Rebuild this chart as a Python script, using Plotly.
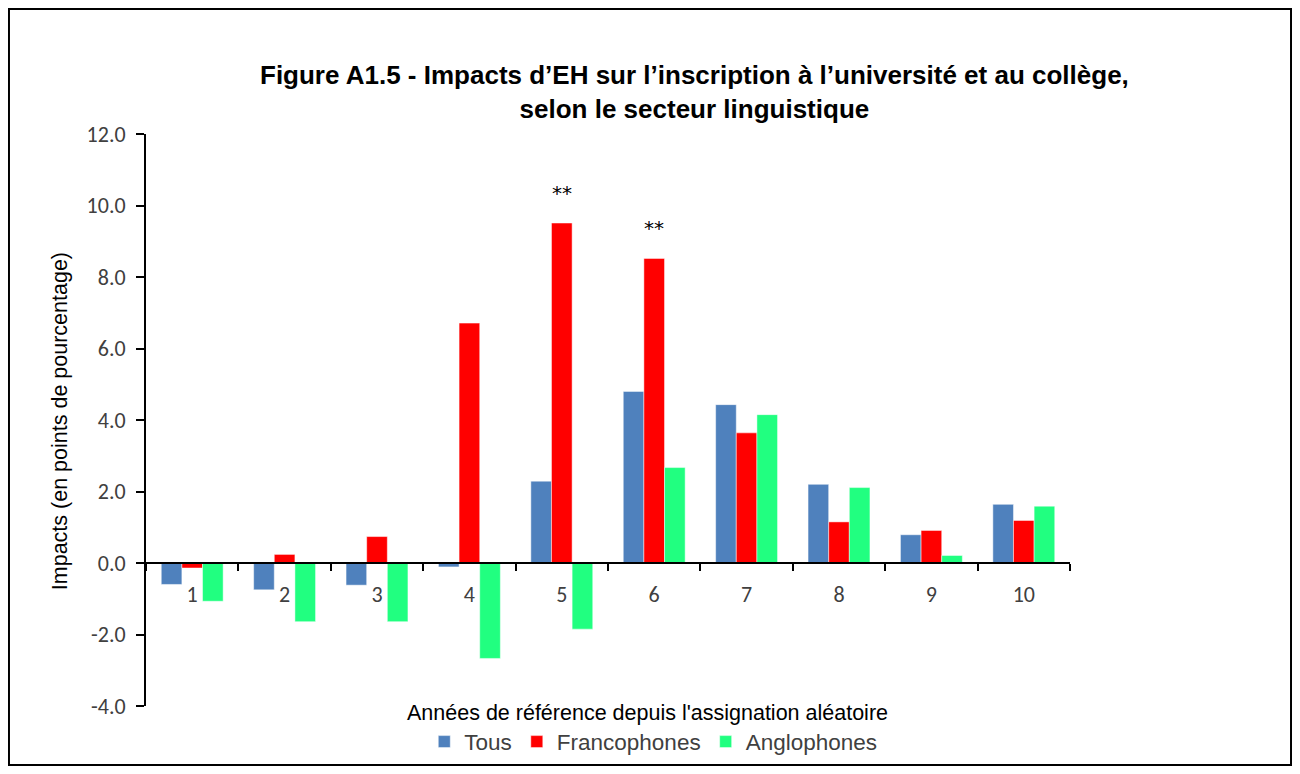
import plotly.graph_objects as go

# Années de référence
annees = ['1', '2', '3', '4', '5', '6', '7', '8', '9', '10']

# Impacts (points de pourcentage)
tous = [-0.60, -0.75, -0.62, -0.11, 2.29, 4.80, 4.43, 2.20, 0.79, 1.64]
francophones = [-0.14, 0.24, 0.74, 6.71, 9.51, 8.52, 3.64, 1.15, 0.91, 1.19]
anglophones = [-1.07, -1.64, -1.64, -2.67, -1.85, 2.67, 4.15, 2.11, 0.21, 1.59]

# Seuils de signification (au-dessus des barres francophones)
signif = ['', '', '', '', '**', '**', '', '', '', '']

# Graduations de l'axe vertical
yticks = [-4, -2, 0, 2, 4, 6, 8, 10, 12]
ylabels = [f'{v:.1f}' for v in yticks]

TITLEFONT = 'Liberation Sans, Arial, sans-serif'
TICKFONT = 'Carlito, Calibri, Lato, sans-serif'

fig = go.Figure()

series = [
    ('Tous', tous, '#4F81BD'),
    ('Francophones', francophones, '#FF0000'),
    ('Anglophones', anglophones, '#21FF80'),
]
for name, vals, color in series:
    fig.add_trace(go.Bar(
        x=annees,
        y=vals,
        name=name,
        marker=dict(color=color, line=dict(color='rgba(255,255,255,0.6)', width=0.8)),
    ))

# Astérisques (x en index de catégorie)
for i, (v, s) in enumerate(zip(francophones, signif)):
    if s:
        fig.add_annotation(
            x=i, y=v, text=s, showarrow=False,
            yshift=30, yanchor='middle', xanchor='center',
            font=dict(family='DejaVu Sans, sans-serif', size=20, color='black'),
        )

# Titres
fig.add_annotation(
    x=0.594, y=1.0726, xref='paper', yref='paper', xanchor='center', yanchor='middle',
    text="<b>Figure A1.5 - Impacts d’EH sur l’inscription à l’université et au collège,<br>selon le secteur linguistique</b>",
    showarrow=False, align='center',
    font=dict(family=TITLEFONT, size=26, color='black'),
)
fig.add_annotation(
    x=-0.093, y=0.498, xref='paper', yref='paper', xanchor='center', yanchor='middle',
    textangle=-90,
    text='Impacts (en points de pourcentage)', showarrow=False,
    font=dict(family=TITLEFONT, size=21.5, color='black'),
)
fig.add_annotation(
    x=0.543, y=-0.012, xref='paper', yref='paper', xanchor='center', yanchor='middle',
    text="Années de référence depuis l'assignation aléatoire", showarrow=False,
    font=dict(family=TITLEFONT, size=21.5, color='black'),
)

# Cadre extérieur
fig.add_shape(
    type='rect', xref='paper', yref='paper',
    x0=-0.1483, x1=1.2392, y0=-0.1031, y1=1.2185,
    line=dict(color='black', width=2), fillcolor='rgba(0,0,0,0)',
)

fig.update_layout(
    width=1284, height=758,
    margin=dict(l=138, r=222, t=126, b=60),
    plot_bgcolor='white', paper_bgcolor='white',
    barmode='group', bargap=0.33, bargroupgap=0,
    showlegend=True,
    legend=dict(
        orientation='h', x=0.549, xanchor='center',
        yref='container', y=0.0317, yanchor='middle',
        font=dict(family=TITLEFONT, size=22.5, color='#404040'),
        itemwidth=30,
    ),
    xaxis=dict(
        type='category', anchor='free', position=0.25, automargin=False,
        showline=True, linecolor='black', linewidth=2,
        ticks='outside', tickson='boundaries', ticklen=7, tickwidth=2, tickcolor='black',
        ticklabelstandoff=12,
        tickfont=dict(family=TICKFONT, size=22, color='#404040'),
        showgrid=False, zeroline=False,
    ),
    yaxis=dict(
        range=[-4, 12], tickmode='array', tickvals=yticks, ticktext=ylabels, automargin=False,
        showline=True, linecolor='black', linewidth=2,
        ticks='outside', ticklen=8, tickwidth=2, tickcolor='black',
        ticklabelstandoff=6,
        tickfont=dict(family=TICKFONT, size=22, color='#404040'),
        showgrid=False, zeroline=False,
    ),
)

fig.write_html('out.html')
